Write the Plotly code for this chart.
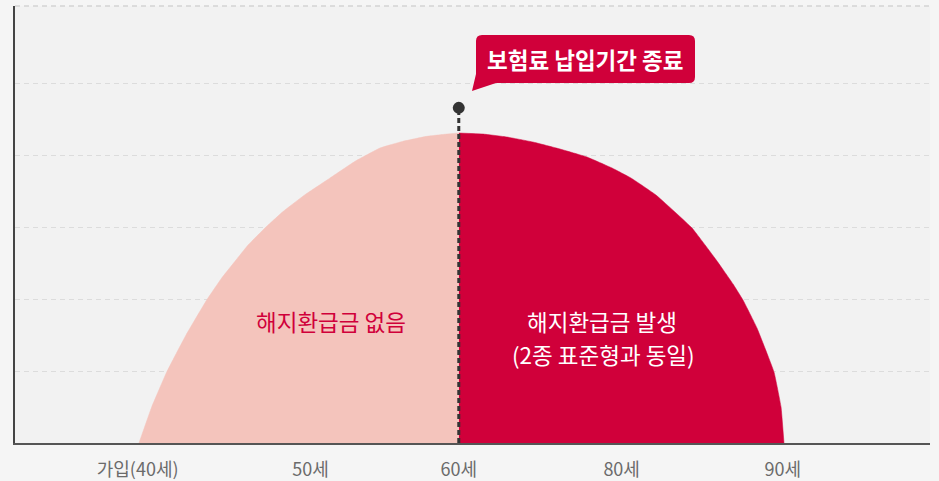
import plotly.graph_objects as go

# ---------------- data ----------------
tick_labels = ["가입(40세)", "50세", "60세", "80세", "90세"]
tick_pos = [13.4, 32.3, 48.5, 66.3, 83.9]

# pink area: no surrender value (from enrolment to end of premium payment)
left_x = [13.55, 14.94, 16.58, 18.69, 20.95, 22.59, 24.04, 25.50, 27.32,
          29.32, 31.69, 34.43, 37.16, 39.89, 42.40, 44.99, 47.18, 48.52]
left_y = [0, 10.0, 19.72, 30.0, 39.72, 45.83, 50.47, 55.08, 59.72,
          64.36, 68.97, 73.61, 78.25, 81.94, 83.81, 85.19, 85.83, 86.11]

# red area: surrender value exists
right_x = [48.52, 51.15, 53.77, 56.61, 59.56, 62.51, 65.25, 67.32, 70.05, 73.99,
           76.72, 78.47, 79.56, 81.09, 82.95, 83.72, 84.04]
right_y = [86.11, 85.83, 85.0, 83.61, 81.67, 79.44, 76.39, 73.61, 68.89, 59.72,
           50.56, 44.17, 39.72, 31.94, 19.72, 10.0, 0]

split_x = 48.5
marker_y = 93.1

label_left = "해지환급금 없음"
label_right_1 = "해지환급금 발생"
label_right_2 = "(2종 표준형과 동일)"
callout_text = "보험료 납입기간 종료"

# ---------------- style ----------------
RED = "#d0003a"
PINK = "#f4c4bc"
FONT = "Noto Sans CJK KR"
X_MAX = 100
Y_MAX = 121.4

W, H = 939, 481
ML, MR, MT, MB = 15, 9, 6, 38
PW, PH = W - ML - MR, H - MT - MB


def px_x(px):
    return (px - ML) / PW * X_MAX


def px_y(py):
    return (H - MB - py) / PH * Y_MAX


fig = go.Figure()

fig.add_trace(go.Scatter(
    x=left_x, y=left_y, mode="lines", fill="tozeroy", fillcolor=PINK,
    line=dict(color=PINK, width=0.5, shape="spline", smoothing=0.3),
    hoverinfo="skip", showlegend=False))

fig.add_trace(go.Scatter(
    x=right_x, y=right_y, mode="lines", fill="tozeroy", fillcolor=RED,
    line=dict(color=RED, width=0.5, shape="spline", smoothing=0.3),
    hoverinfo="skip", showlegend=False))

# dashed vertical line and dot
fig.add_trace(go.Scatter(
    x=[split_x, split_x], y=[0, marker_y], mode="lines",
    line=dict(color="#333333", width=3, dash="5px,3px"),
    hoverinfo="skip", showlegend=False))
fig.add_trace(go.Scatter(
    x=[split_x], y=[marker_y], mode="markers",
    marker=dict(color="#333333", size=12),
    hoverinfo="skip", showlegend=False))

# callout bubble (rounded rect with tail)
bx0, bx1 = px_x(476), px_x(695)
by0, by1 = px_y(83), px_y(35)
rx = px_x(476 + 6) - px_x(476)
ry = px_y(35) - px_y(41)
tail_tip = (px_x(472), px_y(91))
tail_r = px_x(496)
path = (
    f"M {bx0},{by1 - ry} Q {bx0},{by1} {bx0 + rx},{by1} "
    f"L {bx1 - rx},{by1} Q {bx1},{by1} {bx1},{by1 - ry} "
    f"L {bx1},{by0 + ry} Q {bx1},{by0} {bx1 - rx},{by0} "
    f"L {tail_r},{by0} L {tail_tip[0]},{tail_tip[1]} "
    f"L {bx0},{px_y(74)} Z"
)
shapes = [dict(type="path", path=path, xref="x", yref="y",
               fillcolor=RED, line=dict(width=0), layer="above"),
          dict(type="line", xref="paper", yref="paper", x0=0, x1=1, y0=1, y1=1,
               line=dict(color="#d3d3d3", width=1.5, dash="5px,4px"), layer="below")]

annotations = [
    dict(x=(bx0 + bx1) / 2, y=(by0 + by1) / 2, text=f"<b>{callout_text}</b>",
         showarrow=False, font=dict(family=FONT, size=22.5, color="white"),
         xanchor="center", yanchor="middle"),
    dict(x=px_x(331), y=px_y(321), text=label_left, showarrow=False,
         font=dict(family=FONT, size=22.5, color=RED), xanchor="center", yanchor="middle"),
    dict(x=px_x(602), y=px_y(321), text=label_right_1, showarrow=False,
         font=dict(family=FONT, size=22.5, color="white"), xanchor="center", yanchor="middle"),
    dict(x=px_x(603), y=px_y(354), text=label_right_2, showarrow=False,
         font=dict(family=FONT, size=22.5, color="white"), xanchor="center", yanchor="middle"),
]

fig.update_layout(
    width=W, height=H,
    margin=dict(l=ML, r=MR, t=MT, b=MB, autoexpand=False),
    paper_bgcolor="#f5f5f5", plot_bgcolor="#f2f2f2",
    shapes=shapes, annotations=annotations,
    xaxis=dict(range=[0, X_MAX], tickmode="array", tickvals=tick_pos, ticktext=tick_labels,
               showgrid=False, zeroline=False, showline=True, linecolor="#555555", linewidth=2,
               ticks="outside", ticklen=9, tickcolor="rgba(0,0,0,0)", automargin=False,
               tickfont=dict(family=FONT, size=18, color="#6b6b6b"), fixedrange=True),
    yaxis=dict(range=[0, Y_MAX], tickmode="array", tickvals=[20, 40, 60, 80, 100],
               showticklabels=False, showgrid=True, automargin=False,
               gridcolor="#dcdcdc", griddash="5px,4px", gridwidth=1.2,
               zeroline=False, showline=True, linecolor="#444444", linewidth=2,
               fixedrange=True),
    showlegend=False,
)

fig.write_html(
    "out.html",
    config={"displayModeBar": False},
    post_script="document.body.style.margin='0';document.body.style.background='#f5f5f5';",
)
